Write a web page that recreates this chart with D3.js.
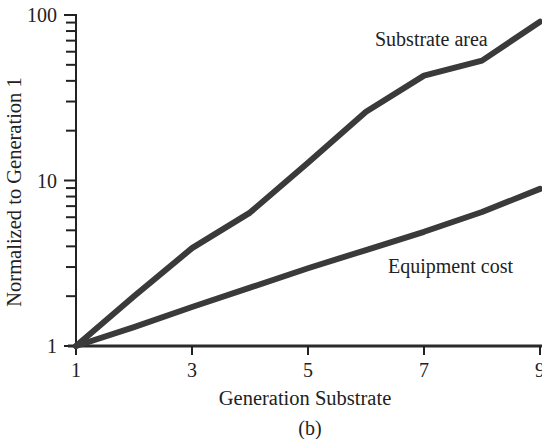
<!DOCTYPE html>
<html>
<head>
  <meta charset="utf-8">
  <script src="https://cdn.jsdelivr.net/npm/d3@7"></script>
  <style>
    body { margin: 0; background: #fff; }
    svg { display: block; }
    text { font-family: "Liberation Serif", "DejaVu Serif", serif; fill: #222; }
  </style>
</head>
<body>
<script>
  const width = 542;
  const height = 439;

  // data
  const generations = [1, 2, 3, 4, 5, 6, 7, 8, 9];
  const substrateArea = [1, 2.0, 3.9, 6.4, 12.8, 26, 43, 53, 91];
  const equipmentCost = [1, 1.3, 1.72, 2.25, 2.95, 3.8, 4.9, 6.45, 8.9];
  const xTicks = [1, 3, 5, 7, 9];
  const yTicks = [1, 10, 100];

  const svg = d3.select('body').append('svg')
    .attr('width', width)
    .attr('height', height);

  const x = d3.scaleLinear().domain([1, 9]).range([76, 540]);
  const y = d3.scaleLog().domain([1, 100]).range([346, 15]);

  // y axis with minor ticks
  const minor = [];
  for (let d = 1; d < 100; d *= 10) {
    for (let k = 2; k <= 9; k++) minor.push(d * k);
  }
  const yAxis = svg.append('g').attr('transform', `translate(${x(1)},0)`);
  yAxis.append('line')
    .attr('y1', y(100) - 1).attr('y2', y(1) + 2)
    .attr('stroke', '#222').attr('stroke-width', 2);
  yAxis.selectAll('.minor').data(minor).join('line')
    .attr('x1', -10).attr('x2', 0)
    .attr('y1', d => y(d)).attr('y2', d => y(d))
    .attr('stroke', '#222').attr('stroke-width', 2);
  yAxis.selectAll('.major').data(yTicks).join('line')
    .attr('x1', -12).attr('x2', 0)
    .attr('y1', d => y(d)).attr('y2', d => y(d))
    .attr('stroke', '#222').attr('stroke-width', 2);
  yAxis.selectAll('.lab').data(yTicks).join('text')
    .attr('x', -19).attr('y', d => y(d))
    .attr('dy', '0.35em')
    .attr('text-anchor', 'end')
    .style('font-size', '20px')
    .text(d => d);

  // x axis
  const xAxis = svg.append('g').attr('transform', `translate(0,${y(1)})`);
  xAxis.append('line')
    .attr('x1', x(1) - 8).attr('x2', width)
    .attr('stroke', '#2a2a2a').attr('stroke-width', 3);
  xAxis.selectAll('.tick').data(xTicks).join('line')
    .attr('x1', d => x(d)).attr('x2', d => x(d))
    .attr('y1', 0).attr('y2', 9)
    .attr('stroke', '#222').attr('stroke-width', 2);
  xAxis.selectAll('.lab').data(xTicks).join('text')
    .attr('x', d => x(d)).attr('y', 31)
    .attr('text-anchor', 'middle')
    .style('font-size', '20px')
    .text(d => d);

  // lines
  const line = d3.line()
    .x((d, i) => x(generations[i]))
    .y(d => y(d));

  [substrateArea, equipmentCost].forEach(series => {
    svg.append('path')
      .datum(series)
      .attr('d', line)
      .attr('fill', 'none')
      .attr('stroke', '#3a3a3a')
      .attr('stroke-width', 6)
      .attr('stroke-linejoin', 'round')
      .attr('stroke-linecap', 'round');
  });

  // labels
  svg.append('text').attr('x', 375).attr('y', 46)
    .style('font-size', '20px').text('Substrate area');
  svg.append('text').attr('x', 388).attr('y', 273)
    .style('font-size', '20px').text('Equipment cost');

  svg.append('text').attr('x', 305).attr('y', 405)
    .attr('text-anchor', 'middle')
    .style('font-size', '20.5px').text('Generation Substrate');
  svg.append('text').attr('x', 310).attr('y', 435)
    .attr('text-anchor', 'middle')
    .style('font-size', '20px').text('(b)');

  svg.append('text')
    .attr('transform', `translate(21,${192}) rotate(-90)`)
    .attr('text-anchor', 'middle')
    .style('font-size', '20.5px')
    .text('Normalized to Generation 1');
</script>
</body>
</html>
